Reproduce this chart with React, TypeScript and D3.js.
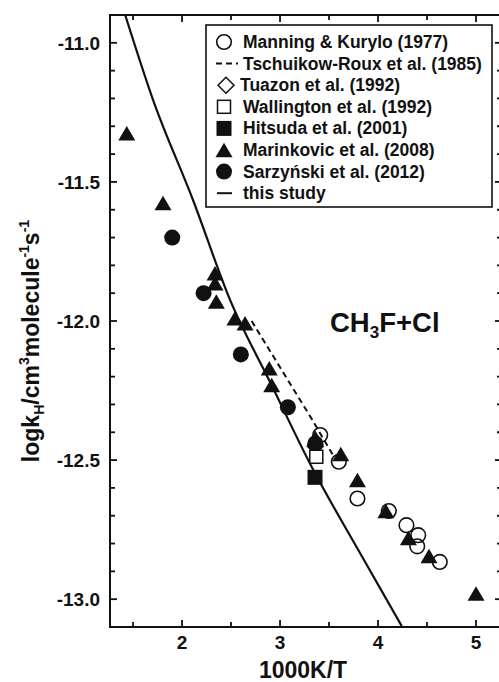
import React from 'react';
import * as d3 from 'd3';

// 1000K/T vs log k
const manning: [number, number][] = [
  [3.41, -12.41], [3.6, -12.506], [3.79, -12.638], [4.11, -12.683],
  [4.29, -12.734], [4.41, -12.77], [4.4, -12.81], [4.63, -12.866],
];
const tschuikowX = [2.71, 3.32, 3.54];
const tschuikowY = [-12.0, -12.35, -12.482];
const tuazon: [number, number][] = [[3.36, -12.45]];
const wallington: [number, number][] = [[3.37, -12.488]];
const hitsuda: [number, number][] = [[3.357, -12.562]];
const marinkovic: [number, number][] = [
  [1.436, -11.325], [1.806, -11.576], [2.337, -11.828], [2.337, -11.864],
  [2.35, -11.93], [2.54, -11.99], [2.643, -12.008], [2.89, -12.17],
  [2.915, -12.23], [3.36, -12.42], [3.62, -12.478], [3.79, -12.572],
  [4.08, -12.683], [4.31, -12.78], [4.52, -12.845], [5.0, -12.98],
];
const sarzynski: [number, number][] = [
  [1.9, -11.7], [2.22, -11.9], [2.6, -12.12], [3.08, -12.31], [3.36, -12.44],
];
const studyX = [1.42, 1.704, 2.112, 2.49, 2.913, 3.34, 3.8, 4.242];
const studyY = [-10.9, -11.205, -11.565, -11.924, -12.23, -12.536, -12.824, -13.097];

const xMajor = [2, 3, 4, 5];
const xMinor = [1.5, 2.5, 3.5, 4.5];
const yMajor = [-13.0, -12.5, -12.0, -11.5, -11.0];
const yTickLabels = ['-13.0', '-12.5', '-12.0', '-11.5', '-11.0'];

const legendLabels = [
  'Manning & Kurylo (1977)',
  'Tschuikow-Roux et al. (1985)',
  'Tuazon et al. (1992)',
  'Wallington et al. (1992)',
  'Hitsuda et al. (2001)',
  'Marinkovic et al. (2008)',
  'Sarzyński et al. (2012)',
  'this study',
];

const W = 499;
const H = 682;
const L = 110, R = 502, T = 15, B = 627;
const font = '"Liberation Sans", Arial, Helvetica, sans-serif';

const x = d3.scaleLinear().domain([1.265, 5.265]).range([L, R]);
const y = d3.scaleLinear().domain([-13.1, -10.9]).range([B, T]);

const triPath = (cx: number, cy: number, w = 17, h = 14.5) =>
  `M${cx - w / 2},${cy + h / 2}L${cx + w / 2},${cy + h / 2}L${cx},${cy - h / 2}Z`;

const Marker = ({ kind, cx, cy }: { kind: string; cx: number; cy: number }) => {
  switch (kind) {
    case 'openCircle':
      return <circle cx={cx} cy={cy} r={7.3} fill="none" stroke="#111" strokeWidth={1.6} />;
    case 'diamond':
      return <path d={`M${cx},${cy - 8}L${cx + 8},${cy}L${cx},${cy + 8}L${cx - 8},${cy}Z`} fill="white" stroke="#111" strokeWidth={1.5} />;
    case 'openSquare':
      return <rect x={cx - 6.5} y={cy - 6.5} width={13} height={13} fill="white" stroke="#111" strokeWidth={1.5} />;
    case 'square':
      return <rect x={cx - 7.5} y={cy - 7.5} width={15} height={15} fill="#111" />;
    case 'triangle':
      return <path d={triPath(cx, cy)} fill="#111" />;
    case 'circle':
      return <circle cx={cx} cy={cy} r={8} fill="#111" />;
    default:
      return null;
  }
};

const legendKinds = ['openCircle', 'dash', 'diamond', 'openSquare', 'square', 'triangle', 'circle', 'line'];

const App = () => {
  const study = d3.line<number>().x((d, i) => x(studyX[i])).y((d) => y(d)).curve(d3.curveMonotoneX);
  const tsch = d3.line<number>().x((d, i) => x(tschuikowX[i])).y((d) => y(d));
  const yMinor = d3.range(-130, -109).map((v) => v / 10).filter((v) => !yMajor.some((m) => Math.abs(m - v) < 1e-6));

  return (
    <div style={{ position: 'absolute', left: 0, top: 0 }}>
      <svg width={W} height={H} style={{ display: 'block', background: 'white' }} fontFamily={font}>
        <defs>
          <clipPath id="plot">
            <rect x={L} y={T} width={R - L} height={B - T} />
          </clipPath>
        </defs>

        <g clipPath="url(#plot)">
          <path d={study(studyY) || ''} fill="none" stroke="#111" strokeWidth={2.2} />
          <path d={tsch(tschuikowY) || ''} fill="none" stroke="#111" strokeWidth={2} strokeDasharray="6,4" />
          {manning.map((d, i) => <Marker key={'m' + i} kind="openCircle" cx={x(d[0])} cy={y(d[1])} />)}
          {tuazon.map((d, i) => <Marker key={'t' + i} kind="diamond" cx={x(d[0])} cy={y(d[1])} />)}
          {sarzynski.map((d, i) => <Marker key={'s' + i} kind="circle" cx={x(d[0])} cy={y(d[1])} />)}
          {marinkovic.map((d, i) => <Marker key={'k' + i} kind="triangle" cx={x(d[0])} cy={y(d[1])} />)}
          {wallington.map((d, i) => <Marker key={'w' + i} kind="openSquare" cx={x(d[0])} cy={y(d[1])} />)}
          {hitsuda.map((d, i) => <Marker key={'h' + i} kind="square" cx={x(d[0])} cy={y(d[1])} />)}
        </g>

        {/* frame */}
        <rect x={L} y={T} width={R - L} height={B - T} fill="none" stroke="#111" strokeWidth={2} />

        {/* x ticks, inward on bottom and top */}
        {xMajor.concat(xMinor).map((v) => {
          const len = xMajor.includes(v) ? 7 : 5;
          return (
            <g key={'xt' + v}>
              <line x1={x(v)} x2={x(v)} y1={B} y2={B - len} stroke="#111" strokeWidth={1.8} />
              <line x1={x(v)} x2={x(v)} y1={T} y2={T + len} stroke="#111" strokeWidth={1.8} />
            </g>
          );
        })}
        {xMajor.map((v) => (
          <text key={'xl' + v} x={x(v)} y={649} textAnchor="middle" fontSize={19} fontWeight="bold" fill="#111">{v}</text>
        ))}

        {/* y ticks, inward on left and right */}
        {yMajor.concat(yMinor).map((v) => {
          const len = yMajor.includes(v) ? 7 : 5;
          return (
            <g key={'yt' + v}>
              <line x1={L} x2={L + len} y1={y(v)} y2={y(v)} stroke="#111" strokeWidth={1.8} />
              <line x1={R} x2={R - len} y1={y(v)} y2={y(v)} stroke="#111" strokeWidth={1.8} />
            </g>
          );
        })}
        {yMajor.map((v, i) => (
          <text key={'yl' + v} x={100} y={y(v) + 7} textAnchor="end" fontSize={19} fontWeight="bold" fill="#111">{yTickLabels[i]}</text>
        ))}

        {/* axis titles */}
        <text x={303} y={678} textAnchor="middle" fontSize={23} fontWeight="bold" fill="#111">1000K/T</text>
        <text transform={`translate(39,${(T + B) / 2 + 20}) rotate(-90)`} textAnchor="middle" fontSize={23} fontWeight="bold" fill="#111">
          logk<tspan fontSize={14} dy={5}>H</tspan>
          <tspan dy={-5}>/cm</tspan>
          <tspan fontSize={14} dy={-10}>3</tspan>
          <tspan dy={10}>molecule</tspan>
          <tspan fontSize={14} dy={-10}>-1</tspan>
          <tspan dy={10}>s</tspan>
          <tspan fontSize={14} dy={-10}>-1</tspan>
        </text>

        {/* reaction label */}
        <text x={330} y={332} fontSize={27.5} fontWeight="bold" fill="#111">
          CH<tspan fontSize={17} dy={6}>3</tspan><tspan dy={-6}>F+Cl</tspan>
        </text>

        {/* legend */}
        <rect x={206} y={25} width={286} height={182} fill="white" stroke="#111" strokeWidth={1.6} />
        {legendLabels.map((lab, i) => {
          const cy = 42 + i * 21.6;
          const kind = legendKinds[i];
          let sym: React.ReactNode;
          if (kind === 'dash') {
            sym = <line x1={216} x2={238} y1={cy} y2={cy} stroke="#111" strokeWidth={2} strokeDasharray="6,4" />;
          } else if (kind === 'line') {
            sym = <line x1={217} x2={232} y1={cy} y2={cy} stroke="#111" strokeWidth={2} />;
          } else {
            sym = <Marker kind={kind} cx={kind === 'diamond' ? 226 : 224} cy={cy} />;
          }
          const tx = kind === 'diamond' ? 240 : 243;
          return (
            <g key={'lg' + i}>
              {sym}
              <text x={tx} y={cy + 6} fontSize={17.5} fontWeight="bold" fill="#111">{lab}</text>
            </g>
          );
        })}
      </svg>
    </div>
  );
};

export default App;
